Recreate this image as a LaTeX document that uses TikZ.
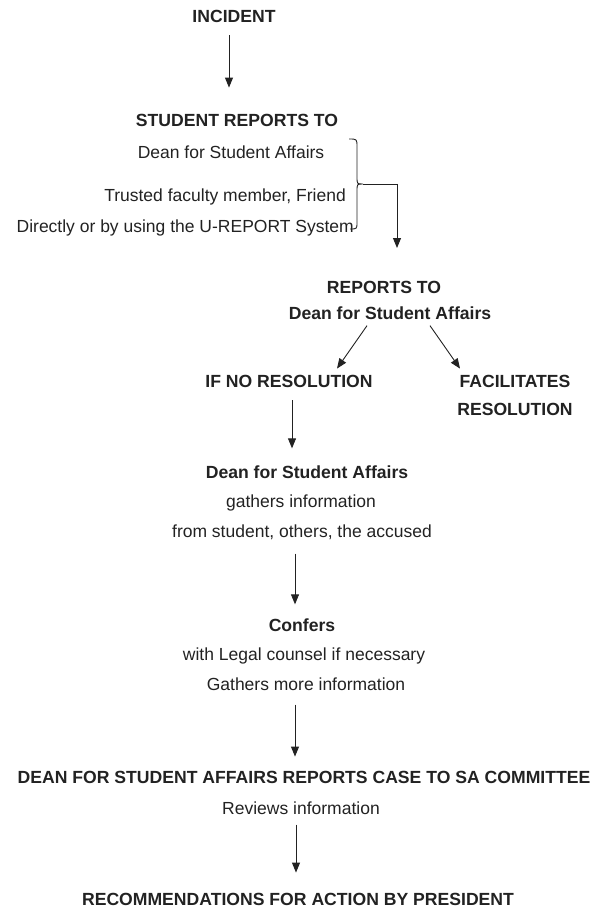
\documentclass[tikz,border=0pt]{standalone}
\usepackage{fontspec}
\setmainfont{Liberation Sans}
\usetikzlibrary{arrows.meta,calc}
\definecolor{ink}{HTML}{222222}
\tikzset{
  lbl/.style={inner sep=0pt, text=ink, font=\fontsize{17.5}{20}\selectfont},
  hd/.style={inner sep=0pt, text=ink, font=\fontsize{17.6}{20}\selectfont\bfseries},
  conn/.style={draw=ink, line width=0.9pt, -{Triangle[length=10pt,width=8pt]}},
  brace/.style={draw=ink, line width=0.9pt}
}
\begin{document}
\begin{tikzpicture}[x=1pt,y=-1pt]
\useasboundingbox (0,0) rectangle (595,909);
% nodes
\node[hd] (inc) at (234,16) {INCIDENT};
\node[hd] (srt) at (237,120) {STUDENT REPORTS TO};
\node[lbl] (dsa1) at (231,152) {Dean for Student Affairs};
\node[lbl,anchor=east] (tf) at (346,197) {Trusted faculty member, Friend};
\node[lbl,anchor=east] (du) at (354,228) {Directly or by using the U-REPORT System};
\node[hd] (rt) at (384,287) {REPORTS TO};
\node[hd] (dsa2) at (390,313) {Dean for Student Affairs};
\node[hd] (inr) at (289,381) {IF NO RESOLUTION};
\node[hd] (fac) at (515,381) {FACILITATES};
\node[hd] (res) at (515,409) {RESOLUTION};
\node[hd] (dsa3) at (307,472) {Dean for Student Affairs};
\node[lbl] (gi) at (301,503) {gathers information};
\node[lbl] (fs) at (302,532) {from student, others, the accused};
\node[hd] (conf) at (302,625) {Confers};
\node[lbl] (wl) at (304,656) {with Legal counsel if necessary};
\node[lbl] (gm) at (306,684) {Gathers more information};
\node[hd] (dr) at (304,777) {DEAN FOR STUDENT AFFAIRS REPORTS CASE TO SA COMMITTEE};
\node[lbl] (ri) at (301,808) {Reviews information};
\node[hd] (rec) at (298,899) {RECOMMENDATIONS FOR ACTION BY PRESIDENT};
% axis helpers
\coordinate (a0) at (229,0);
\coordinate (a1) at (292,0);
\coordinate (a2) at (295,0);
\coordinate (a3) at (296,0);
% brace
\coordinate (btip) at (363,184);
\coordinate (bcorner) at (397,184);
\coordinate (bend) at (397,248);
\path[brace] (349,139) .. controls (357,139) .. (357,147) -- (357,177)
  .. controls (357,184) .. (btip)
  .. controls (357,184) .. (357,191) -- (357,222)
  .. controls (357,229) .. (350,229);
\draw[brace] (btip) -- (bcorner);
\draw[conn] (bcorner) -- (bend);
% connectors
\draw[conn] ($(inc.south -| a0)+(0,13)$) -- ($(srt.north -| a0)+(0,-26)$);
\draw[conn] ($(dsa2.south)+(-23,6)$) -- ($(inr.north -| 337,0)+(0,-6)$);
\draw[conn] ($(dsa2.south)+(40,6)$) -- ($(fac.north -| 460,0)+(0,-6)$);
\draw[conn] ($(inr.south -| a1)+(0,13)$) -- ($(dsa3.north -| a1)+(0,-17)$);
\draw[conn] ($(fs.south -| a2)+(0,14)$) -- ($(conf.north -| a2)+(0,-14)$);
\draw[conn] ($(gm.south -| a2)+(0,14)$) -- ($(dr.north -| a2)+(0,-14)$);
\draw[conn] ($(ri.south -| a3)+(0,10)$) -- ($(rec.north -| a3)+(0,-20)$);
\end{tikzpicture}
\end{document}
